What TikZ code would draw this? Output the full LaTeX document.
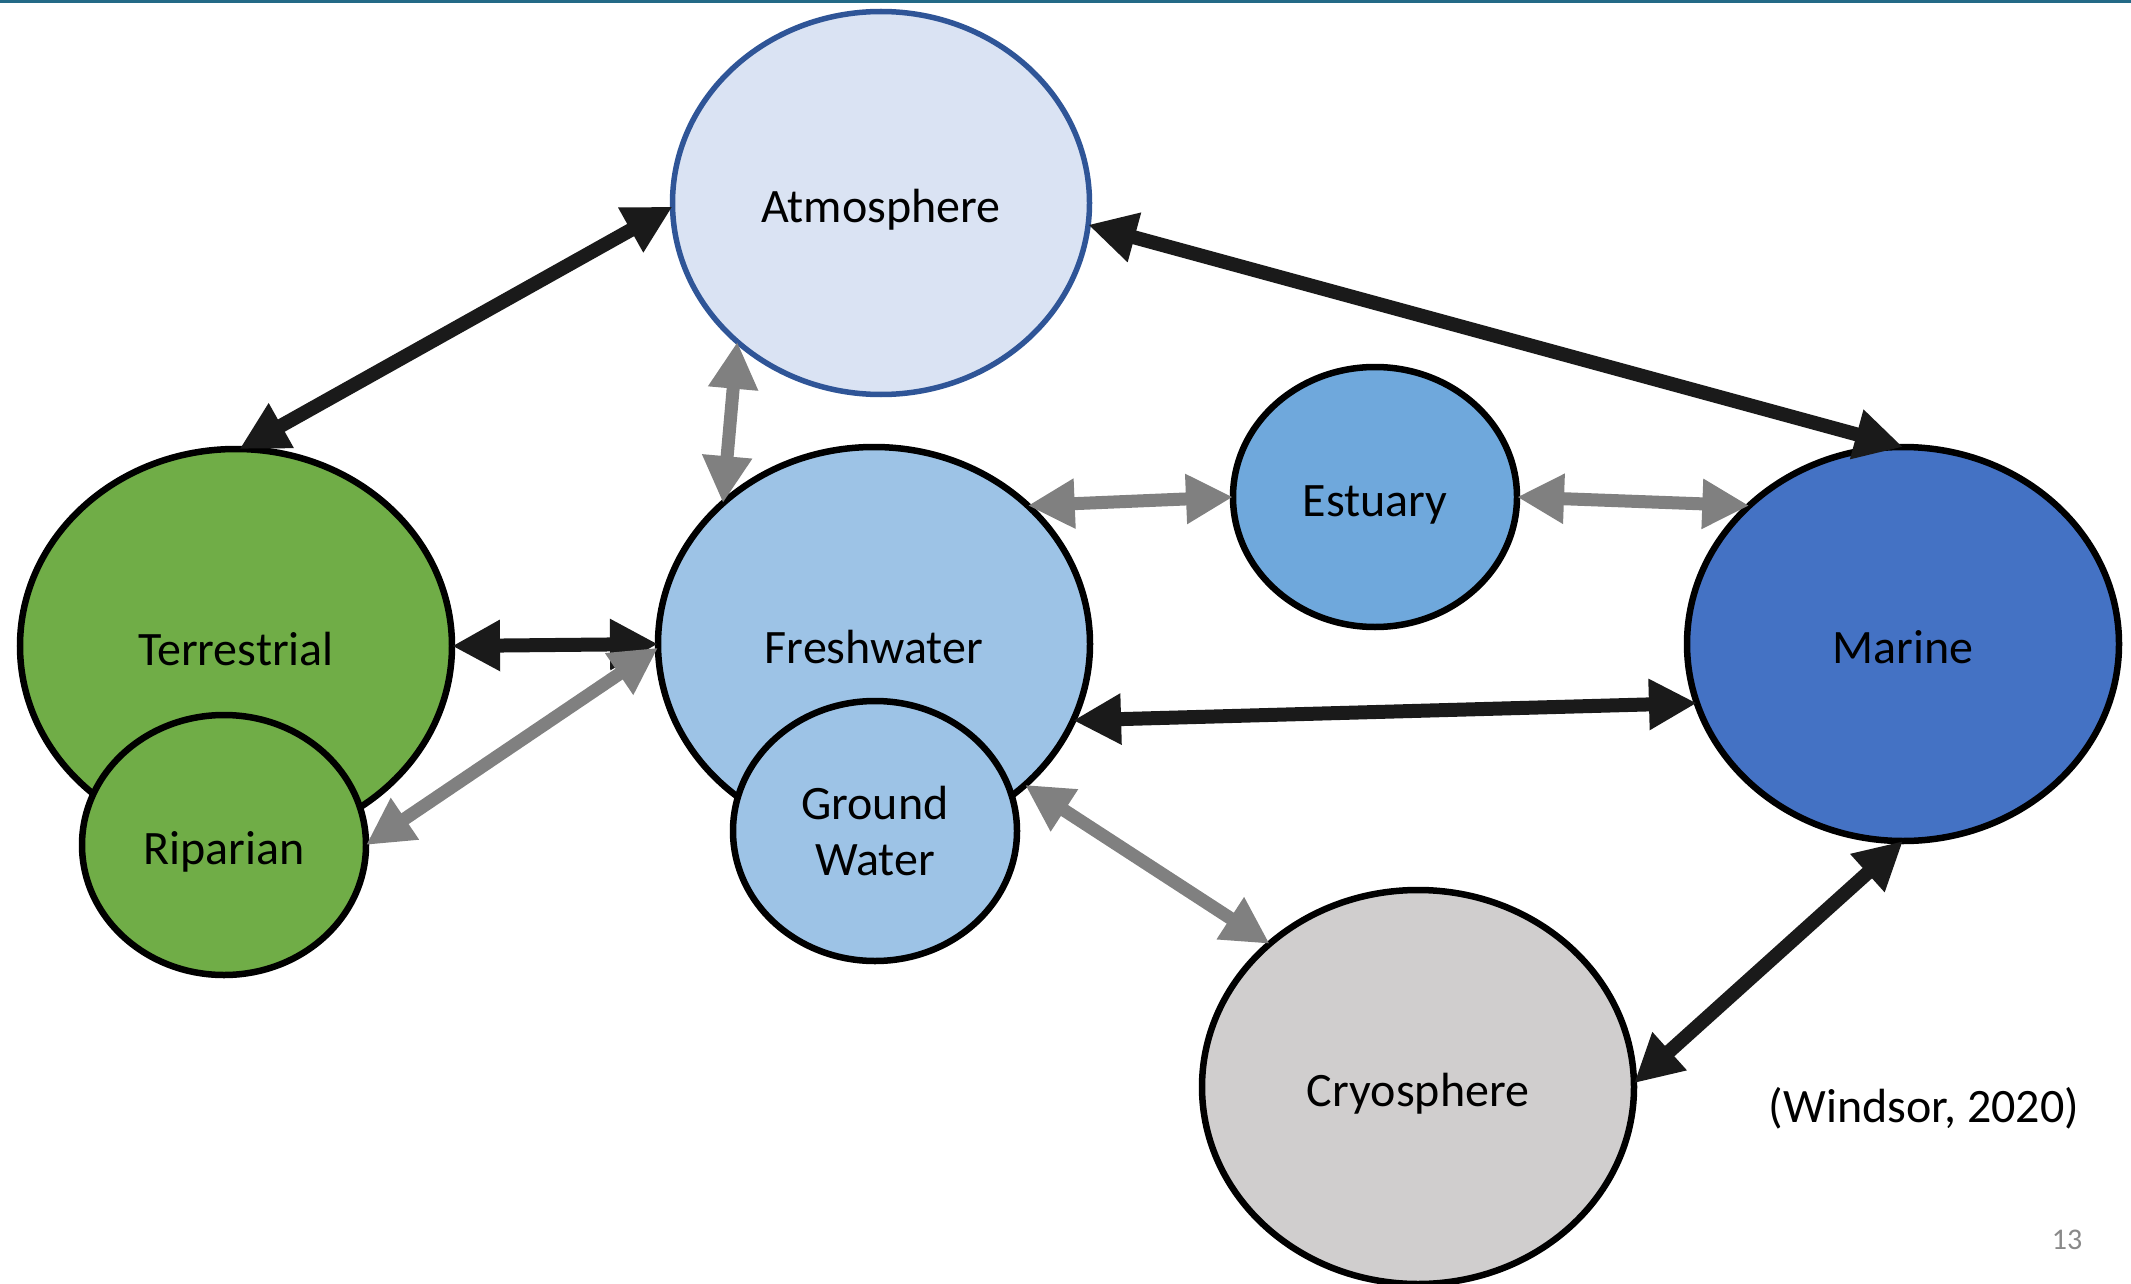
\documentclass[tikz,border=0pt]{standalone}
\usepackage{fontspec}
\setmainfont{Carlito}
\usetikzlibrary{arrows.meta,shapes.geometric}
\definecolor{topline}{HTML}{236A87}
\definecolor{atmfill}{HTML}{DAE3F3}
\definecolor{atmdraw}{HTML}{2F5597}
\definecolor{freshfill}{HTML}{9DC3E6}
\definecolor{estfill}{HTML}{6FA8DC}
\definecolor{marfill}{HTML}{4472C4}
\definecolor{cryofill}{HTML}{D0CECE}
\definecolor{terrfill}{HTML}{70AD47}
\definecolor{arrowblack}{HTML}{1A1A1A}
\definecolor{arrowgray}{HTML}{808080}
\definecolor{pagenum}{HTML}{898989}
\begin{document}
\begin{tikzpicture}[x=1pt,y=-1pt,
  blob/.style={ellipse, draw=black, line width=6.5pt, inner sep=0pt, outer sep=0pt,
    font=\fontsize{48}{56}\selectfont, align=center},
  oneline/.style={text height=46pt, text depth=7pt},
  bigblob/.style={blob, minimum width=432pt, minimum height=394pt},
  smallblob/.style={blob, minimum width=284pt, minimum height=260pt},
  blackarrow/.style={draw=arrowblack, line width=14pt,
    {Triangle[length=48pt,width=48pt]}-{Triangle[length=48pt,width=48pt]}},
  grayarrow/.style={draw=arrowgray, line width=13pt,
    {Triangle[length=47pt,width=47pt]}-{Triangle[length=47pt,width=47pt]}},
  caption/.style={font=\fontsize{48}{56}\selectfont, inner sep=0pt, oneline}]
\path[use as bounding box] (0,0) rectangle (2131,1284);
\fill[topline] (0,0) rectangle (2131,3);

\node[bigblob, oneline, fill=terrfill] (terr) at (236,646) {Terrestrial};
\node[smallblob, oneline, fill=terrfill] (rip) at (224,845) {Riparian};
\node[blob, oneline, fill=atmfill, draw=atmdraw, line width=5.5pt, minimum width=417pt, minimum height=383pt] (atm) at (881,203) {Atmosphere};
\node[bigblob, oneline, fill=freshfill] (fresh) at (874,644) {Freshwater};
\node[smallblob, fill=freshfill] (gw) at (875,831) {Ground\\Water};
\node[smallblob, oneline, fill=estfill] (est) at (1375,497) {Estuary};
\node[bigblob, oneline, fill=marfill] (mar) at (1903,644) {Marine};
\node[bigblob, oneline, fill=cryofill] (cryo) at (1418,1087) {Cryosphere};

\node[caption] (cite) at (1924,1103) {(Windsor, 2020)};
\node[font=\fontsize{30}{36}\selectfont, text=pagenum, inner sep=0pt] (page) at (2067,1240) {13};

\draw[blackarrow] (atm.181) -- (terr.89);
\draw[blackarrow] (atm.354) -- (mar.90);
\draw[grayarrow] (atm.224) -- (fresh.137.7);
\draw[blackarrow] (terr.0) -- (fresh.180);
\draw[grayarrow] (rip.0) -- (fresh.181);
\draw[grayarrow] (fresh.42.3) -- (est.180);
\draw[grayarrow] (est.0) -- (mar.138.2);
\draw[blackarrow] (fresh.339) -- (mar.196);
\draw[grayarrow] (fresh.317.7) -- (cryo.136);
\draw[blackarrow] (cryo.1) -- (mar.270);
\end{tikzpicture}
\end{document}
